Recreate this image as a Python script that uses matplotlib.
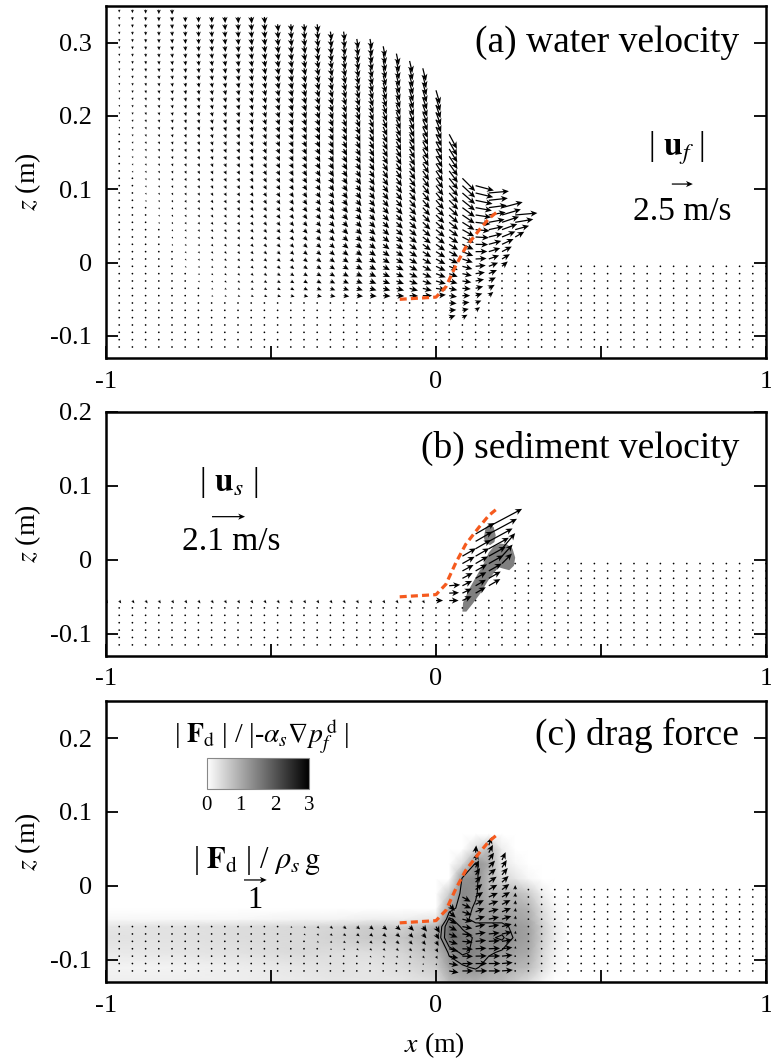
import numpy as np
import matplotlib.pyplot as plt

plt.rcParams['font.family'] = ['Liberation Serif', 'DejaVu Serif']
plt.rcParams['mathtext.fontset'] = 'stix'

# quiver grid (m)
x_nodes = np.round(np.arange(-1.0, 1.0001, 0.04), 2)
z_nodes = np.round(np.arange(-0.115, 0.3451, 0.01), 3)

# initial bed profile (orange dashed line)
bed_x = [-0.11, 0.0, 0.03, 0.06, 0.09, 0.13, 0.16, 0.19]
bed_z = [-0.05, -0.047, -0.033, -0.004, 0.021, 0.044, 0.060, 0.071]

# ---- (a) water velocity, one entry per water column
wa_x = [-1.00, -0.96, -0.92, -0.88, -0.84, -0.80, -0.76, -0.72, -0.68, -0.64, -0.60,
        -0.56, -0.52, -0.48, -0.44, -0.40, -0.36, -0.32, -0.28, -0.24, -0.20, -0.16,
        -0.12, -0.08, -0.04, 0.00, 0.04, 0.08, 0.12, 0.16, 0.20, 0.24]
wa_eta = [0.345, 0.345, 0.345, 0.345, 0.345, 0.345, 0.335, 0.335, 0.335, 0.335, 0.335,
          0.335, 0.335, 0.325, 0.325, 0.325, 0.325, 0.315, 0.315, 0.305, 0.305, 0.295,
          0.285, 0.275, 0.265, 0.235, 0.175, 0.115, 0.105, 0.095, 0.075, 0.065]
wa_zb = [-0.045] * 26 + [-0.075, -0.075, -0.065, -0.045, -0.005, 0.035]
wa_mtop = [0.25, 0.35, 0.42, 0.48, 0.53, 0.58, 0.62, 0.66, 0.70, 0.73, 0.76,
           0.80, 0.84, 0.88, 0.92, 0.96, 1.00, 1.05, 1.10, 1.15, 1.22, 1.30,
           1.38, 1.46, 1.56, 1.70, 1.95, 2.15, 2.25, 2.40, 2.55, 2.65]
wa_atop = [-90, -90, -90, -89, -89, -88, -88, -87, -87, -86, -86,
           -85, -85, -84, -84, -83, -83, -82, -82, -81, -80, -79,
           -78, -77, -76, -74, -62, -45, -15, 5, 15, 5]
wa_mbot = [0.03, 0.05, 0.08, 0.10, 0.12, 0.15, 0.18, 0.21, 0.24, 0.27, 0.30,
           0.34, 0.38, 0.42, 0.47, 0.52, 0.57, 0.62, 0.68, 0.74, 0.80, 0.87,
           0.94, 1.02, 1.10, 1.18, 0.80, 0.70, 0.65, 0.70, 0.90, 1.25]
wa_abot = [-30, -30, -30, -30, -30, -30, -28, -27, -26, -25, -24,
           -22, -20, -18, -16, -14, -12, -10, -8, -6, -5, -4,
           -3, -2, 0, 5, 20, 30, 35, 40, 40, 30]

# ---- (b) sediment velocity in the moving part of the slope
sb_x = [0.00, 0.04, 0.08, 0.12, 0.16, 0.20]
sb_zlo = [-0.055, -0.055, -0.055, -0.045, -0.035, -0.005]
sb_zhi = [-0.055, -0.035, 0.005, 0.035, 0.045, 0.015]
sb_mlo = [0.45, 0.60, 0.65, 0.75, 0.85, 0.90]
sb_mhi = [0.45, 0.70, 1.00, 1.40, 2.40, 1.30]
sb_alo = [0, 0, 25, 30, 30, 45]
sb_ahi = [0, 5, 30, 30, 28, 50]
blob1_x = [0.080, 0.082, 0.100, 0.125, 0.145, 0.160, 0.175, 0.195, 0.215, 0.232,
           0.240, 0.236, 0.222, 0.205, 0.190, 0.175, 0.158, 0.135, 0.110, 0.092]
blob1_z = [-0.070, -0.058, -0.040, -0.020, -0.005, 0.010, 0.018, 0.022, 0.021, 0.015,
           0.003, -0.008, -0.014, -0.012, -0.010, -0.018, -0.028, -0.045, -0.060, -0.070]
blob2_x = [0.145, 0.150, 0.162, 0.175, 0.181, 0.177, 0.164, 0.150]
blob2_z = [0.030, 0.043, 0.049, 0.044, 0.033, 0.024, 0.020, 0.023]

# ---- (c) drag force
fcl_m = [0.02] * 12 + [0.05, 0.07, 0.09, 0.11, 0.13, 0.15, 0.17, 0.19, 0.21, 0.23, 0.25, 0.27, 0.29, 0.33]
fcl_a = [-40] * 23 + [-45, -50, -60]
fc_x = [0.04, 0.08, 0.12, 0.16, 0.20, 0.24]
fc_zlo = [-0.115, -0.115, -0.115, -0.115, -0.115, -0.085]
fc_zhi = [-0.025, -0.015, 0.045, 0.055, 0.035, -0.005]
fc_mlo = [0.42, 0.48, 0.52, 0.52, 0.48, 0.12]
fc_mhi = [0.38, 0.42, 0.32, 0.38, 0.38, 0.20]
fc_alo = [-10, 0, 0, 0, 5, 80]
fc_ahi = [-50, -30, 85, 70, 65, 90]

# |Fd| / |-alpha_s grad p| background, coarse readings
fd_x = [-1.0, -0.8, -0.6, -0.4, -0.3, -0.2, -0.1, 0.0, 0.04, 0.08, 0.12, 0.16, 0.2,
        0.24, 0.28, 0.32, 0.36, 0.4, 1.0]
fd_z = [-0.13, -0.11, -0.09, -0.07, -0.055, -0.045, -0.03, -0.01, 0.01, 0.03, 0.05, 0.07]
fd_val = [
    [0.2, 0.2, 0.2, 0.25, 0.3, 0.3, 0.3, 0.4, 0.8, 0.9, 0.9, 0.8, 0.8, 0.6, 0.4, 0.15, 0, 0, 0],
    [0.15, 0.15, 0.2, 0.3, 0.35, 0.3, 0.4, 0.6, 1.1, 1.2, 1.3, 1.1, 1.0, 0.9, 0.8, 0.4, 0.1, 0, 0],
    [0.25, 0.3, 0.35, 0.45, 0.4, 0.4, 0.5, 0.8, 1.3, 1.5, 1.4, 1.3, 1.2, 1.1, 1.0, 0.5, 0.15, 0, 0],
    [0.35, 0.35, 0.4, 0.45, 0.55, 0.65, 0.7, 1.0, 1.7, 1.6, 1.4, 1.4, 1.5, 1.2, 1.1, 0.6, 0.2, 0, 0],
    [0.3, 0.35, 0.4, 0.45, 0.5, 0.6, 0.55, 0.9, 1.7, 1.4, 1.3, 1.3, 1.3, 1.2, 1.1, 0.6, 0.2, 0, 0],
    [0.1, 0.1, 0.1, 0.15, 0.15, 0.2, 0.2, 0.3, 1.5, 1.3, 1.2, 1.2, 1.2, 1.1, 1.0, 0.5, 0.15, 0, 0],
    [0, 0, 0, 0, 0, 0, 0, 0, 1.1, 1.4, 1.2, 1.1, 1.0, 1.0, 0.9, 0.4, 0.1, 0, 0],
    [0, 0, 0, 0, 0, 0, 0, 0, 0.6, 1.4, 1.3, 0.9, 0.9, 0.8, 0.6, 0.2, 0, 0, 0],
    [0, 0, 0, 0, 0, 0, 0, 0, 0, 1.3, 1.35, 0.8, 0.5, 0.3, 0.1, 0, 0, 0, 0],
    [0, 0, 0, 0, 0, 0, 0, 0, 0, 0.4, 1.3, 1.0, 0.3, 0.1, 0, 0, 0, 0, 0],
    [0, 0, 0, 0, 0, 0, 0, 0, 0, 0, 0.4, 0.8, 0.2, 0, 0, 0, 0, 0, 0],
    [0] * 19,
]

DOT = 1e-4
ORANGE = '#f55a1e'


def blank():
    return (np.full((len(z_nodes), len(x_nodes)), np.nan),
            np.full((len(z_nodes), len(x_nodes)), np.nan))


def polar(m, a):
    r = np.radians(a)
    return m * np.cos(r), m * np.sin(r)


def col_of(x, xs):
    for k, v in enumerate(xs):
        if abs(v - x) < 1e-6:
            return k
    return None


# (a) field
Ua, Va = blank()
for i, x in enumerate(x_nodes):
    k = col_of(x, wa_x)
    for j, z in enumerate(z_nodes):
        if k is not None:
            eta, zb = wa_eta[k], wa_zb[k]
            if zb - 1e-9 <= z <= eta + 1e-9:
                s = (z - zb) / (eta - zb)
                m = wa_mbot[k] + (wa_mtop[k] - wa_mbot[k]) * s
                a = wa_abot[k] + (wa_atop[k] - wa_abot[k]) * np.sqrt(s)
                Ua[j, i], Va[j, i] = polar(m, a)
            elif z < zb and z < 0:
                Ua[j, i], Va[j, i] = DOT, 0
        elif z < 0:
            Ua[j, i], Va[j, i] = DOT, 0

# (b) field
Ub, Vb = blank()
for i, x in enumerate(x_nodes):
    for j, z in enumerate(z_nodes):
        if x < 0.22 and z <= -0.055 + 1e-9:
            Ub[j, i], Vb[j, i] = DOT, 0
            if x <= 0.0 and z > -0.06:
                Ub[j, i], Vb[j, i] = polar(0.22, -55)
        elif x > 0.22 and z < 0:
            Ub[j, i], Vb[j, i] = DOT, 0
    k = col_of(x, sb_x)
    if k is not None:
        for j, z in enumerate(z_nodes):
            if sb_zlo[k] - 1e-9 <= z <= sb_zhi[k] + 1e-9:
                span = sb_zhi[k] - sb_zlo[k]
                s = (z - sb_zlo[k]) / span if span > 0 else 1.0
                m = sb_mlo[k] + (sb_mhi[k] - sb_mlo[k]) * s ** 2
                a = sb_alo[k] + (sb_ahi[k] - sb_alo[k]) * s
                Ub[j, i], Vb[j, i] = polar(m, a)

# (c) field
Uc, Vc = blank()
for i, x in enumerate(x_nodes):
    k = col_of(x, fc_x)
    for j, z in enumerate(z_nodes):
        if x <= 0.001 and z <= -0.055 + 1e-9:
            m = fcl_m[i] * (z + 0.125) / 0.07
            Uc[j, i], Vc[j, i] = polar(max(m, DOT), fcl_a[i])
        elif k is not None:
            if fc_zlo[k] - 1e-9 <= z <= fc_zhi[k] + 1e-9:
                s = (z - fc_zlo[k]) / (fc_zhi[k] - fc_zlo[k])
                m = fc_mlo[k] + (fc_mhi[k] - fc_mlo[k]) * s
                a = fc_alo[k] + (fc_ahi[k] - fc_alo[k]) * s ** 2
                Uc[j, i], Vc[j, i] = polar(m, a)
            elif z < fc_zlo[k]:
                Uc[j, i], Vc[j, i] = DOT, 0
        elif x > 0.26 and z < 0:
            Uc[j, i], Vc[j, i] = DOT, 0

fig = plt.figure(figsize=(7.71, 10.62), dpi=100)
ax_a = fig.add_axes([0.1375, 0.6629, 0.856, 0.3315])
ax_b = fig.add_axes([0.1375, 0.3823, 0.856, 0.2298])
ax_c = fig.add_axes([0.1375, 0.0753, 0.856, 0.2646])

qkw = dict(units='dots', scale_units='dots', width=1.25, headwidth=5,
           headlength=5.5, headaxislength=4.2, minlength=1.5, color='k', zorder=3)
XX, ZZ = np.meshgrid(x_nodes, z_nodes)

qa = ax_a.quiver(XX, ZZ, np.ma.masked_invalid(Ua), np.ma.masked_invalid(Va),
                 scale=2.5 / 21, **qkw)
ax_b.fill(blob1_x, blob1_z, color='#808080', lw=0, zorder=2)
ax_b.fill(blob2_x, blob2_z, color='#808080', lw=0, zorder=2)
qb = ax_b.quiver(XX, ZZ, np.ma.masked_invalid(Ub), np.ma.masked_invalid(Vb),
                 scale=2.1 / 33, **qkw)

FX, FZ = np.meshgrid(fd_x, fd_z)
FV = np.array(fd_val)
mesh = ax_c.pcolormesh(FX, FZ, FV, shading='gouraud', cmap='gray_r', vmin=0, vmax=3, zorder=1)
ax_c.contour(FX, FZ, FV, levels=[1.25, 1.45], colors='k', linewidths=0.8, zorder=2)
qc = ax_c.quiver(XX, ZZ, np.ma.masked_invalid(Uc), np.ma.masked_invalid(Vc),
                 scale=1 / 22.7, **qkw)

ylims = [(-0.13, 0.35), (-0.13, 0.2), (-0.13, 0.25)]
yticks = [[-0.1, 0, 0.1, 0.2, 0.3], [-0.1, 0, 0.1, 0.2], [-0.1, 0, 0.1, 0.2]]
titles = ['(a) water velocity', '(b) sediment velocity', '(c) drag force']
title_y = [0.895, 0.852, 0.879]
for ax, yl, yt, t, ty in zip([ax_a, ax_b, ax_c], ylims, yticks, titles, title_y):
    ax.plot(bed_x, bed_z, color=ORANGE, lw=2.3, dashes=(2.2, 1.3), zorder=4)
    ax.set_xlim(-1, 1)
    ax.set_ylim(*yl)
    ax.set_xticks([-1, -0.5, 0, 0.5, 1])
    ax.set_xticklabels(['-1', '', '0', '', '1'])
    ax.set_yticks(yt)
    ax.set_yticklabels(['0' if v == 0 else '%g' % v for v in yt])
    ax.tick_params(direction='in', length=8.5, width=1.3, labelsize=19,
                   right=True, top=False)
    ax.tick_params(axis='x', pad=9)
    ax.tick_params(axis='y', pad=10)
    for sp in ax.spines.values():
        sp.set_linewidth(1.8)
    ax.text(0.959, ty, t, transform=ax.transAxes, ha='right', va='center', fontsize=27)
    pos = ax.get_position()
    fig.text(0.036, pos.y0 + pos.height / 2, r'$z$ (m)', rotation=90,
             ha='center', va='center', fontsize=20)

fig.text(0.563, 0.016, r'$x$ (m)', ha='center', va='center', fontsize=20)

# keys
ax_a.quiverkey(qa, 0.885, 0.8267, 2.5, ' ', coordinates='figure', labelpos='S')
fig.text(0.8777, 0.8604, r'| $\mathbf{u}_f$ |', ha='center', va='center', fontsize=24)
fig.text(0.8846, 0.8007, '2.5 m/s', ha='center', va='center', fontsize=24)

ax_b.quiverkey(qb, 0.2964, 0.5135, 2.1, ' ', coordinates='figure', labelpos='S')
fig.text(0.297, 0.5452, r'| $\mathbf{u}_s$ |', ha='center', va='center', fontsize=24)
fig.text(0.2996, 0.4899, '2.1 m/s', ha='center', va='center', fontsize=24)

ax_c.quiverkey(qc, 0.3312, 0.1714, 1, ' ', coordinates='figure', labelpos='S')
fig.text(0.333, 0.1902, r'| $\mathbf{F}_\mathrm{d}$ | / $\rho_s\,\mathrm{g}$',
         ha='center', va='center', fontsize=22)
fig.text(0.3307, 0.1525, '1', ha='center', va='center', fontsize=22)

fig.text(0.3394, 0.3063,
         r'| $\mathbf{F}_\mathrm{d}$ | / |-$\alpha_s\nabla p_f^{\,\mathrm{d}}$ |',
         ha='center', va='center', fontsize=20)
cax = fig.add_axes([0.268, 0.257, 0.133, 0.0295])
cb = fig.colorbar(mesh, cax=cax, orientation='horizontal', ticks=[0, 1, 2, 3])
cb.outline.set_edgecolor('#888888')
cb.outline.set_linewidth(0.8)
cax.tick_params(length=0, labelsize=15, pad=5)
cax.set_xticklabels(['0', '1', '2', '3'])

fig.savefig('out.png', dpi=100, facecolor='white')
